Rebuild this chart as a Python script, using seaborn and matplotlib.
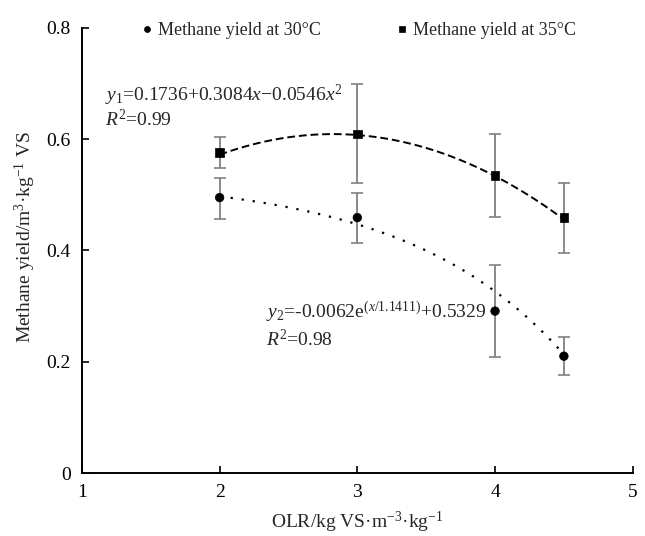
import numpy as np
import pandas as pd
import matplotlib
matplotlib.use("Agg")
import matplotlib.pyplot as plt
import seaborn as sns

sns.set_theme(style="ticks")
plt.rcParams['font.family'] = ['Liberation Serif', 'DejaVu Serif']
plt.rcParams['mathtext.fontset'] = 'custom'
plt.rcParams['mathtext.rm'] = 'Liberation Serif'
plt.rcParams['mathtext.it'] = 'Liberation Serif:italic'
plt.rcParams['mathtext.bf'] = 'Liberation Serif:bold'

olr = [2, 3, 4, 4.5]
yield_30 = [0.495, 0.459, 0.291, 0.210]
err30_up = [0.035, 0.044, 0.083, 0.035]
err30_dn = [0.038, 0.045, 0.083, 0.034]
yield_35 = [0.576, 0.609, 0.535, 0.459]
err35_up = [0.028, 0.090, 0.075, 0.062]
err35_dn = [0.028, 0.088, 0.075, 0.063]

# fitted equations shown on the chart
quad = (0.1736, 0.3084, -0.0546)
expo = (-0.0062, 1.1411, 0.5329)

fig = plt.figure(figsize=(6.45, 5.36), dpi=100)
ax = fig.add_axes([0.127, 0.1175, 0.854, 0.8305])

xf = np.linspace(2, 4.5, 100)
fit35 = quad[0] + quad[1] * xf + quad[2] * xf ** 2
fit30 = expo[0] * np.exp(xf / expo[1]) + expo[2]
sns.lineplot(x=xf, y=fit35, ax=ax, color='black', linestyle=(0, (4, 2)), linewidth=1.4)
sns.lineplot(x=xf, y=fit30, ax=ax, color='black', linestyle=(0, (1, 4)), linewidth=1.6)

ax.errorbar(olr, yield_30, yerr=[err30_dn, err30_up], fmt='none', ecolor='#808080',
            elinewidth=1.3, capsize=4.5, capthick=1.2)
ax.errorbar(olr, yield_35, yerr=[err35_dn, err35_up], fmt='none', ecolor='#808080',
            elinewidth=1.3, capsize=4.5, capthick=1.2)

df = pd.DataFrame({'x': olr * 2, 'y': yield_30 + yield_35,
                   's': ['Methane yield at 30°C'] * 4 + ['Methane yield at 35°C'] * 4})
sns.scatterplot(data=df, x='x', y='y', hue='s', style='s', markers=['o', 's'],
                palette=['black', 'black'], s=38, edgecolor='black', ax=ax, zorder=5)

ax.set_xlim(1, 5)
ax.set_ylim(0, 0.8)
ax.set_xticks([1, 2, 3, 4, 5])
ax.set_yticks([0, 0.2, 0.4, 0.6, 0.8])
ax.set_yticklabels(['0', '0.2', '0.4', '0.6', '0.8'])
ax.tick_params(direction='in', length=5, width=1.2, labelsize=14, colors='black')
ax.tick_params(axis='x', pad=8)
ax.tick_params(axis='y', pad=8)
for sp in ['top', 'right']:
    ax.spines[sp].set_visible(False)
for sp in ['left', 'bottom']:
    ax.spines[sp].set_linewidth(1.4)
    ax.spines[sp].set_color('black')

ax.set_xlabel('OLR/kg VS·m$^{-3}$·kg$^{-1}$', fontsize=14, labelpad=6)
ax.set_ylabel('Methane yield/m$^{3}$·kg$^{-1}$ VS', fontsize=14)
ax.yaxis.set_label_coords(-0.08, 0.53)

ax.text(1.17, 0.668, r'$y_1$=0.1736+0.3084$x$−0.0546$x^2$', fontsize=14)
ax.text(1.17, 0.623, r'$R^2$=0.99', fontsize=14)
ax.text(2.34, 0.277, r'$y_2$=-0.0062e$^{(x/1.1411)}$+0.5329', fontsize=14)
ax.text(2.34, 0.228, r'$R^2$=0.98', fontsize=14)

leg = ax.legend(loc='upper center', bbox_to_anchor=(0.5, 1.05), ncol=2, frameon=False,
                fontsize=13, handletextpad=0.1, columnspacing=4.0, markerscale=0.7,
                handlelength=1.0)

fig.savefig('out.png', dpi=100)
